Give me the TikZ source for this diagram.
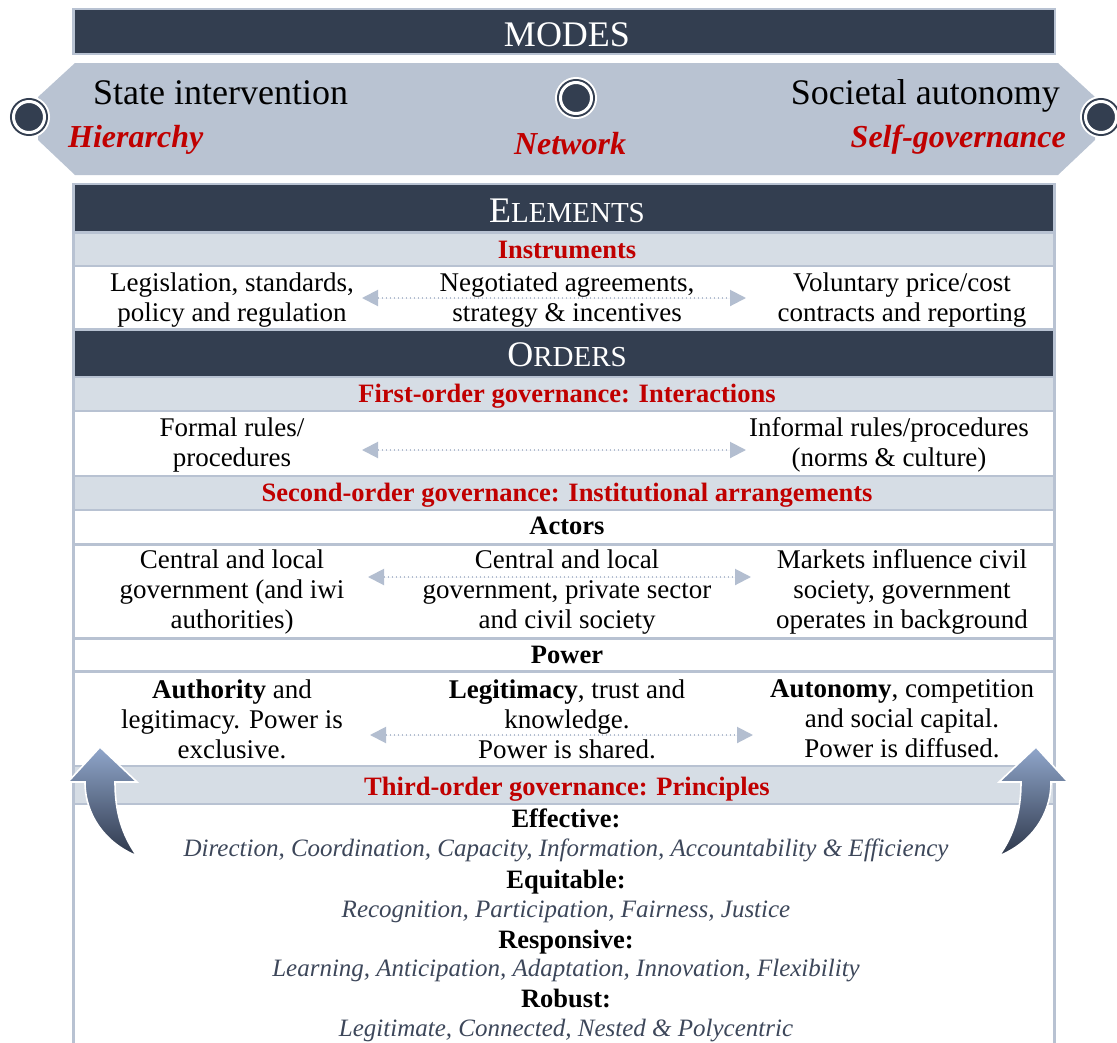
\documentclass[tikz,border=0pt]{standalone}
\usepackage{fontspec}
\setmainfont{Liberation Serif}
\usetikzlibrary{arrows.meta}
\definecolor{bannerdark}{HTML}{333E50}
\definecolor{bandgray}{HTML}{B9C3D2}
\definecolor{rowlight}{HTML}{D6DDE5}
\definecolor{bordergray}{HTML}{B8C2D2}
\definecolor{redtext}{HTML}{C00000}
\definecolor{slate}{HTML}{3D475A}
\definecolor{arrowgray}{HTML}{B3BED0}
\definecolor{arrowtop}{HTML}{90A6CB}
\definecolor{arrowmid}{HTML}{4E5B72}
\definecolor{arrowbot}{HTML}{2E384B}
\newcommand\fBody{\fontsize{27}{30}\selectfont}
\newcommand\fHead{\fontsize{26.5}{30}\selectfont\bfseries}
\newcommand\fBanner{\fontsize{36}{40}\selectfont}
\newcommand\fSc{\fontsize{29}{32}\selectfont}
\newcommand\fBand{\fontsize{36}{40}\selectfont}
\newcommand\fMode{\fontsize{32}{36}\selectfont\bfseries\itshape}
\newcommand\fItal{\fontsize{25}{28}\selectfont\itshape}
\tikzset{
  bannertext/.style={anchor=base, inner sep=0, text=white, font=\fBanner},
  hdr/.style={anchor=base, inner sep=0, text=redtext, font=\fHead},
  subhdr/.style={anchor=base, inner sep=0, text=black, font=\fHead},
  cell/.style={anchor=center, inner sep=0, align=center, text=black, font=\fBody},
  pitem/.style={anchor=base, inner sep=0, text=slate, font=\fItal},
  modetext/.style={inner sep=0, text=redtext, font=\fMode},
  bandtext/.style={inner sep=0, text=black, font=\fBand},
  dotarrow/.style={draw=arrowgray, fill=arrowgray, line width=2pt, dash pattern=on 1.8pt off 2.2pt,
    {Triangle[length=16pt,width=16pt]}-{Triangle[length=16pt,width=16pt]}},
  ring/.style={circle, inner sep=0, minimum size=31pt, fill=bannerdark, draw=white, line width=3pt,
    preaction={draw=white, line width=11pt}, preaction={draw=bannerdark, line width=7pt}},
  curvarrow/.style={top color=arrowtop, middle color=arrowmid, bottom color=arrowbot, draw=white, line width=1.6pt}
}
\begin{document}
\begin{tikzpicture}[x=1pt,y=-1pt]
\useasboundingbox (0,0) rectangle (1117,1042);
% MODES banner
\fill[bordergray] (72,8) rectangle (1056,55);
\fill[bannerdark] (75,10) rectangle (1054,53);
\node[bannertext] (modes) at (567,46) {MODES};
% band
\fill[bandgray] (75,63) -- (1058,63) -- (1095,97) -- (1095,140) -- (1058,175) -- (75,175) -- (38,140) -- (38,97) -- cycle;
\node[ring] (cL) at (29,117) {};
\node[ring] (cM) at (576,98) {};
\node[ring] (cR) at (1101,117) {};
\node[bandtext, anchor=base west] (state) at (93,104) {State intervention};
\node[modetext, anchor=base west] (hier) at (68,147) {Hierarchy};
\node[modetext, anchor=base] (net) at (570,154) {Network};
\node[bandtext, anchor=base east] (soc) at (1060,104) {Societal autonomy};
\node[modetext, anchor=base east] (self) at (1066,147) {Self-governance};
% table
\fill[bordergray] (72,183) rectangle (1056,1045);
\fill[bannerdark] (75,185) rectangle (1053,231);
\fill[rowlight] (75,233.5) rectangle (1053,264.5);
\fill[white] (75,267) rectangle (1053,328);
\fill[bannerdark] (75,330.5) rectangle (1053,375.5);
\fill[rowlight] (75,378) rectangle (1053,409.5);
\fill[white] (75,412) rectangle (1053,474.5);
\fill[rowlight] (75,477) rectangle (1053,508.5);
\fill[white] (75,511) rectangle (1053,542.5);
\fill[white] (75,545.5) rectangle (1053,636.5);
\fill[white] (75,639.5) rectangle (1053,669.5);
\fill[white] (75,672.5) rectangle (1053,764.5);
\fill[rowlight] (75,767) rectangle (1053,802.5);
\fill[white] (75,805) rectangle (1053,1045);
\node[bannertext] (elements) at (567,222) {E{\fSc LEMENTS}};
\node[bannertext] (orders) at (567,366) {O{\fSc RDERS}};
\node[hdr] (instr) at (567,258) {Instruments};
\node[hdr] (first) at (567,402) {First-order governance: Interactions};
\node[hdr] (second) at (567,501) {Second-order governance: Institutional arrangements};
\node[subhdr] (actors) at (567,534) {Actors};
\node[subhdr] (power) at (567,663) {Power};
\node[hdr] (third) at (567,795) {Third-order governance: Principles};
% dotted arrows
\coordinate (a1L) at (362,298); \coordinate (a1R) at (746,298);
\coordinate (a2L) at (362,450); \coordinate (a2R) at (746,450);
\coordinate (a3L) at (368,577); \coordinate (a3R) at (751,577);
\coordinate (a4L) at (370,735); \coordinate (a4R) at (753,735);
\draw[dotarrow] (a1L) -- (a1R);
\draw[dotarrow] (a2L) -- (a2R);
\draw[dotarrow] (a3L) -- (a3R);
\draw[dotarrow] (a4L) -- (a4R);
% cells
\node[cell] (i1) at (232,300) {Legislation, standards,\\policy and regulation};
\node[cell] (i2) at (567,300) {Negotiated agreements,\\strategy \& incentives};
\node[cell] (i3) at (902,300) {Voluntary price/cost\\contracts and reporting};
\node[cell] (f1) at (232,445) {Formal rules/\\procedures};
\node[cell] (f3) at (889,445) {Informal rules/procedures\\(norms \& culture)};
\node[cell] (ac1) at (232,592) {Central and local\\government (and iwi\\authorities)};
\node[cell] (ac2) at (567,592) {Central and local\\government, private sector\\and civil society};
\node[cell] (ac3) at (902,592) {Markets influence civil\\society, government\\operates in background};
\node[cell] (p1) at (232,719) {\textbf{Authority} and\\legitimacy. Power is\\exclusive.};
\node[cell] (p2) at (567,719) {\textbf{Legitimacy}, trust and\\knowledge.\\Power is shared.};
\node[cell] (p3) at (902,719) {\textbf{Autonomy}, competition\\and social capital.\\Power is diffused.};
% principles
\node[subhdr] (eff) at (566,827) {Effective:};
\node[pitem] (effi) at (566,856) {Direction, Coordination, Capacity, Information, Accountability \& Efficiency};
\node[subhdr] (equ) at (566,888) {Equitable:};
\node[pitem] (equi) at (566,917) {Recognition, Participation, Fairness, Justice};
\node[subhdr] (res) at (566,948) {Responsive:};
\node[pitem] (resi) at (566,976) {Learning, Anticipation, Adaptation, Innovation, Flexibility};
\node[subhdr] (rob) at (566,1007) {Robust:};
\node[pitem] (robi) at (566,1036) {Legitimate, Connected, Nested \& Polycentric};
% curved arrows
\shadedraw[curvarrow] (85,782) .. controls (85,815) and (105,843) .. (137,856)
  .. controls (122,835) and (115,812) .. (115,782) -- (137,782) -- (100,747) -- (68,782) -- cycle;
\shadedraw[curvarrow] (1051,782) .. controls (1051,815) and (1031,843) .. (999,856)
  .. controls (1014,835) and (1021,812) .. (1021,782) -- (999,782) -- (1036,747) -- (1068,782) -- cycle;
\end{tikzpicture}
\end{document}
